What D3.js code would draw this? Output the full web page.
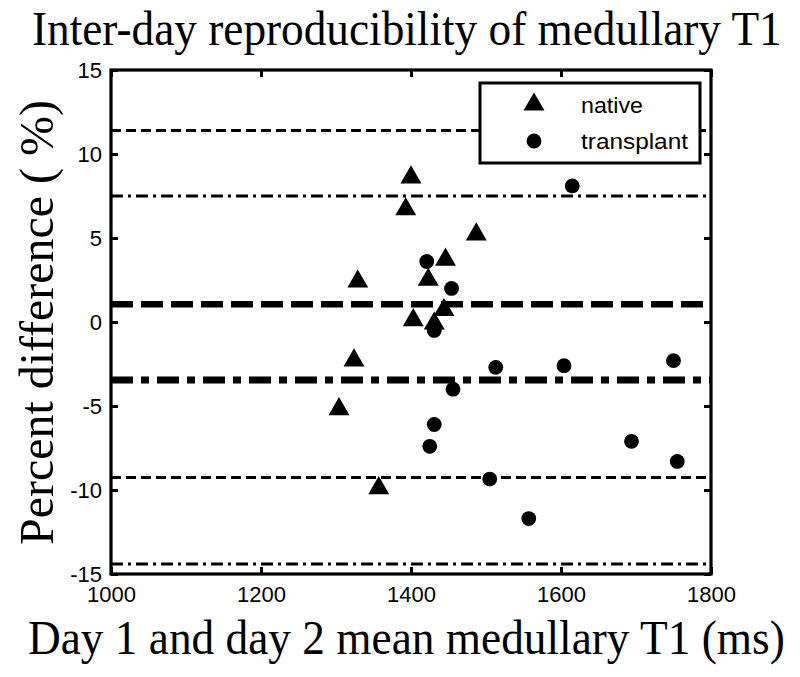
<!DOCTYPE html>
<html>
<head>
<meta charset="utf-8">
<script src="https://cdn.jsdelivr.net/npm/d3@7"></script>
<style>
  body { margin: 0; background: #fff; }
  svg { display: block; }
</style>
</head>
<body>
<svg id="chart" width="800" height="677"></svg>
<script>
// ---- data ----
const nativeX = [1400, 1393, 1487, 1446, 1329, 1423, 1444, 1403, 1431, 1324, 1304, 1357];
const nativeY = [8.7, 6.8, 5.3, 3.8, 2.5, 2.6, 0.8, 0.2, 0.0, -2.2, -5.1, -9.8];
const transplantX = [1421, 1454, 1431, 1615, 1513, 1456, 1431, 1425, 1505, 1557, 1604, 1750, 1694, 1755];
const transplantY = [3.6, 2.0, -0.5, 8.1, -2.7, -4.0, -6.1, -7.4, -9.35, -11.7, -2.6, -2.3, -7.1, -8.3];
// reference lines: native mean / limits, transplant mean / limits
const refValues = [11.4, 1.05, -9.25, 7.5, -3.45, -14.4];
const refKinds  = ["nativeLoA", "nativeMean", "nativeLoA", "transLoA", "transMean", "transLoA"];
const xTicks = [1000, 1200, 1400, 1600, 1800];
const yTicks = [15, 10, 5, 0, -5, -10, -15];
const legendLabels = ["native", "transplant"];

const titleText = "Inter-day reproducibility of medullary T1";
const xLabel = "Day 1 and day 2 mean medullary T1 (ms)";
const yLabel = "Percent difference ( %)";

// ---- layout ----
const svg = d3.select("#chart");
const margin = {left: 111, right: 89, top: 70, bottom: 103};
const W = 800, H = 677;
const x = d3.scaleLinear().domain([1000, 1800]).range([margin.left, W - margin.right]);
const y = d3.scaleLinear().domain([-15, 15]).range([H - margin.bottom, margin.top]);

const lineStyles = {
  nativeLoA:  {w: 3,   dash: "10,5"},
  nativeMean: {w: 6.5, dash: "22,8"},
  transLoA:   {w: 3,   dash: "12,5,3,5"},
  transMean:  {w: 7,   dash: "22,8,8,8"}
};

// reference lines
svg.append("g").selectAll("line").data(refValues).join("line")
  .attr("x1", x(1000)).attr("x2", x(1800))
  .attr("y1", d => y(d)).attr("y2", d => y(d))
  .attr("stroke", "#000")
  .attr("stroke-width", (d, i) => lineStyles[refKinds[i]].w)
  .attr("stroke-dasharray", (d, i) => lineStyles[refKinds[i]].dash);

// axes
const fmt = d => String(d);
const axisFont = "Liberation Sans, Arial, sans-serif";
function styleAxis(g, showText) {
  g.select(".domain").remove();
  g.selectAll(".tick line").attr("stroke", "#000").attr("stroke-width", 3);
  g.selectAll(".tick text").attr("fill", "#000").style("font-family", axisFont).style("font-size", "22px");
  if (!showText) g.selectAll(".tick text").remove();
}
svg.append("g").attr("transform", `translate(${x(1000)},0)`)
  .call(d3.axisLeft(y).tickValues(yTicks).tickFormat(fmt).tickSizeInner(-7).tickSizeOuter(0).tickPadding(9))
  .call(g => styleAxis(g, true));
svg.append("g").attr("transform", `translate(${x(1800)},0)`)
  .call(d3.axisRight(y).tickValues(yTicks).tickSizeInner(-7).tickSizeOuter(0))
  .call(g => styleAxis(g, false));
svg.append("g").attr("transform", `translate(0,${y(-15)})`)
  .call(d3.axisBottom(x).tickValues(xTicks).tickFormat(fmt).tickSizeInner(-7).tickSizeOuter(0).tickPadding(12))
  .call(g => styleAxis(g, true));
svg.append("g").attr("transform", `translate(0,${y(15)})`)
  .call(d3.axisTop(x).tickValues(xTicks).tickSizeInner(-7).tickSizeOuter(0))
  .call(g => styleAxis(g, false));

// plot box
svg.append("rect")
  .attr("x", x(1000)).attr("y", y(15))
  .attr("width", x(1800) - x(1000)).attr("height", y(-15) - y(15))
  .attr("fill", "none").attr("stroke", "#000").attr("stroke-width", 3.2);

// markers
const triSym = d3.symbol().type(d3.symbolTriangle).size(190);
const nativeData = nativeX.map((v, i) => [v, nativeY[i]]);
const transData = transplantX.map((v, i) => [v, transplantY[i]]);

svg.append("g").selectAll("path").data(nativeData).join("path")
  .attr("d", triSym)
  .attr("transform", d => `translate(${x(d[0])},${y(d[1]) + 1.5})`)
  .attr("fill", "#000");
svg.append("g").selectAll("circle").data(transData).join("circle")
  .attr("cx", d => x(d[0])).attr("cy", d => y(d[1])).attr("r", 7.4)
  .attr("fill", "#000");

// legend
const lg = svg.append("g");
lg.append("rect").attr("x", 480).attr("y", 83).attr("width", 220).attr("height", 80)
  .attr("fill", "#fff").attr("stroke", "#000").attr("stroke-width", 3);
lg.append("path").attr("d", triSym).attr("transform", "translate(534,104.5)").attr("fill", "#000");
lg.append("circle").attr("cx", 534).attr("cy", 141).attr("r", 7.4).attr("fill", "#000");
lg.selectAll("text").data(legendLabels).join("text")
  .attr("x", 581).attr("y", (d, i) => 113 + i * 36)
  .text(d => d)
  .attr("textLength", (d, i) => i === 0 ? 62 : 107)
  .attr("lengthAdjust", "spacingAndGlyphs")
  .style("font-family", axisFont).style("font-size", "22px").attr("fill", "#000");

// titles: fitted to the target width via a horizontal scale
const serif = "Liberation Serif, Times New Roman, serif";
function fittedText(str, tx, ty, targetLen, rotate) {
  const g = svg.append("g");
  const t = g.append("text").text(str)
    .style("font-family", serif).style("font-size", "49px").attr("fill", "#000");
  const natural = t.node().getComputedTextLength();
  const s = targetLen / natural;
  g.attr("transform", `translate(${tx},${ty})${rotate ? " rotate(-90)" : ""} scale(${s},1)`);
  return g;
}
fittedText(titleText, 32, 45, 750, false);
fittedText(xLabel, 28, 654, 757, false);
fittedText(yLabel, 53, 545, 445, true);
</script>
</body>
</html>
